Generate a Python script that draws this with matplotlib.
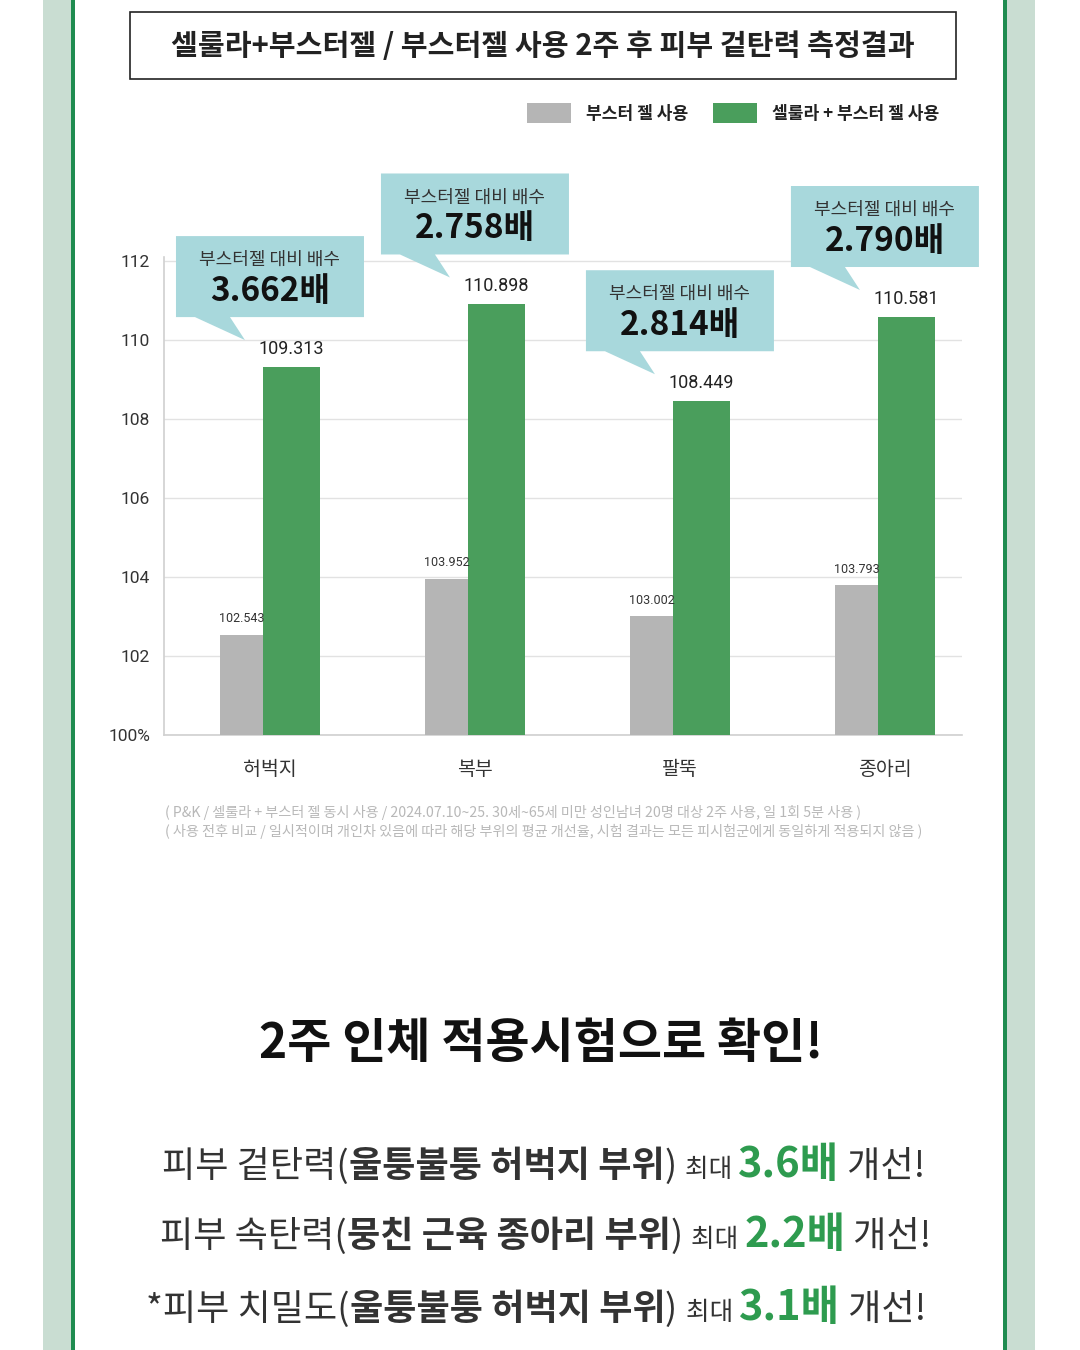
import matplotlib
matplotlib.use('Agg')
import matplotlib.pyplot as plt
from matplotlib.patches import Rectangle, Polygon
import numpy as np

plt.rcParams['font.family'] = ['Noto Sans CJK KR', 'DejaVu Sans']

W, H = 1080, 1350

# data
categories = ["허벅지", "복부", "팔뚝", "종아리"]
booster_only = [102.543, 103.952, 103.002, 103.793]
cellula_booster = [109.313, 110.898, 108.449, 110.581]
multipliers = ["3.662배", "2.758배", "2.814배", "2.790배"]
y_ticks = [100, 102, 104, 106, 108, 110, 112]
y_tick_labels = ["100%", "102", "104", "106", "108", "110", "112"]
legend_labels = ["부스터 젤 사용", "셀룰라 + 부스터 젤 사용"]
title = "셀룰라+부스터젤 / 부스터젤 사용 2주 후 피부 겉탄력 측정결과"
callout_caption = "부스터젤 대비 배수"
footnotes = [
    "( P&K / 셀룰라 + 부스터 젤 동시 사용 / 2024.07.10~25. 30세~65세 미만 성인남녀 20명 대상 2주 사용, 일 1회 5분 사용 )",
    "( 사용 전후 비교 / 일시적이며 개인차 있음에 따라 해당 부위의 평균 개선율, 시험 결과는 모든 피시험군에게 동일하게 적용되지 않음 )",
]
headline = "2주 인체 적용시험으로 확인!"
summary_lines = [
    ("피부 겉탄력(", "울퉁불퉁 허벅지 부위", ")", "3.6배"),
    ("피부 속탄력(", "뭉친 근육 종아리 부위", ")", "2.2배"),
    ("*피부 치밀도(", "울퉁불퉁 허벅지 부위", ")", "3.1배"),
]

GRAY = '#b5b5b5'
GREEN = '#4a9e5c'
TEAL = '#a8d8dc'
DARK = '#222222'
TEXT = '#333333'
BRIGHT_GREEN = '#2e9b4f'


def fx(px):
    return px / W


def fy(py):
    return 1 - py / H


fig = plt.figure(figsize=(W / 100, H / 100), dpi=100)
fig.patch.set_facecolor('white')

# side bands
for x0, w, c in [(43, 28, '#c9ddd2'), (71, 4, '#1f8c50'), (1003, 4, '#1f8c50'), (1007, 28, '#c9ddd2')]:
    fig.add_artist(Rectangle((fx(x0), 0), w / W, 1, transform=fig.transFigure,
                             facecolor=c, edgecolor='none', zorder=0))

# title box
fig.add_artist(Rectangle((fx(130), fy(79)), 826 / W, 67 / H, transform=fig.transFigure,
                         facecolor='white', edgecolor=DARK, linewidth=1.2))
fig.text(fx(543), fy(46), title, ha='center', va='center', fontsize=21,
         fontweight='heavy', color=DARK)

# chart
ax_l, ax_r, ax_b, ax_t = 164, 962, 735, 257
ax = fig.add_axes([fx(ax_l), fy(ax_b), (ax_r - ax_l) / W, (ax_b - ax_t) / H])
x_lo, x_hi = -0.517, 3.376
y_lo, y_hi = 100, 112.1
ax.set_xlim(x_lo, x_hi)
ax.set_ylim(y_lo, y_hi)
ux = (x_hi - x_lo) / (ax_r - ax_l)
uy = (y_hi - y_lo) / (ax_b - ax_t)

x = np.arange(len(categories))
gray_w, green_w = 0.21, 0.278
split = -0.034
b1 = ax.bar(x + split, np.array(booster_only) - 100, bottom=100, width=-gray_w,
            align='edge', color=GRAY, zorder=3)
b2 = ax.bar(x + split, np.array(cellula_booster) - 100, bottom=100, width=green_w,
            align='edge', color=GREEN, zorder=3)

for i in range(len(categories)):
    ax.text(x[i] + split - gray_w / 2, booster_only[i] + 16 * uy, f"{booster_only[i]:.3f}",
            ha='center', va='center', fontsize=9, color=TEXT, family='Roboto', zorder=4)
    ax.text(x[i] + split + green_w / 2, cellula_booster[i] + 18 * uy, f"{cellula_booster[i]:.3f}",
            ha='center', va='center', fontsize=13, color=DARK, family='Roboto', zorder=4)

ax.set_yticks(y_ticks)
ax.set_yticklabels(y_tick_labels, fontsize=12.5, color=TEXT, family='Roboto')
ax.set_xticks(x)
ax.set_xticklabels(categories, fontsize=14, color=TEXT)
ax.tick_params(axis='y', length=0, pad=10)
ax.tick_params(axis='x', length=0, pad=17)
ax.grid(axis='y', color='#e2e2e2', linewidth=1, zorder=0)
ax.set_axisbelow(True)
for s in ['top', 'right']:
    ax.spines[s].set_visible(False)
for s in ['left', 'bottom']:
    ax.spines[s].set_color('#d0d0d0')
    ax.spines[s].set_linewidth(1.2)

# callouts
for i, m in enumerate(multipliers):
    cx = x[i]
    v = cellula_booster[i]
    bot = v + 50 * uy
    top = bot + 81 * uy
    left, right = cx - 94 * ux, cx + 94 * ux
    verts = [(left, top), (right, top), (right, bot), (cx - 40 * ux, bot),
             (cx - 25 * ux, v + 27 * uy), (cx - 75 * ux, bot), (left, bot)]
    ax.add_patch(Polygon(verts, closed=True, facecolor=TEAL, edgecolor='none',
                         clip_on=False, zorder=5))
    ax.text(cx, top - 24 * uy, callout_caption, ha='center', va='center', fontsize=13,
            color=TEXT, zorder=6, clip_on=False)
    ax.text(cx, top - 55 * uy, m, ha='center', va='center', fontsize=24,
            fontweight='heavy', color='#111111', zorder=6, clip_on=False)

fig.legend(handles=[b1, b2], labels=legend_labels, loc='center',
           bbox_to_anchor=(fx(733), fy(113)), ncol=2, frameon=False,
           handlelength=2.6, handleheight=1.45, handletextpad=0.85, columnspacing=1.45,
           prop={'size': 12.3, 'weight': 'bold'}, labelcolor=DARK)

# footnotes
for i, line in enumerate(footnotes):
    fig.text(fx(165), fy(812 + 19 * i), line, ha='left', va='center', fontsize=10.2,
             color='#b8b8b8')

fig.text(fx(541), fy(1043), headline, ha='center', va='center', fontsize=34.5,
         fontweight='heavy', color='#111111')

# summary lines, built run by run
renderer = fig.canvas.get_renderer()
centers = [(544, 1177), (546, 1247), (536, 1320)]
for (pre, mid, post, num), (cx_px, base_px) in zip(summary_lines, centers):
    runs = [(pre, 26, 'medium', TEXT), (mid, 26, 'bold', TEXT), (post + " ", 26, 'medium', TEXT),
            ("최대 ", 18.5, 'normal', TEXT), (num, 30, 'heavy', BRIGHT_GREEN),
            (" 개선!", 26, 'normal', TEXT)]
    arts = []
    for txt, size, weight, color in runs:
        t = fig.text(0, fy(base_px), txt, ha='left', va='baseline', fontsize=size,
                     fontweight=weight, color=color)
        arts.append(t)
    widths = [a.get_window_extent(renderer).width for a in arts]
    xpos = cx_px - sum(widths) / 2
    for a, w in zip(arts, widths):
        a.set_x(fx(xpos))
        xpos += w

fig.savefig('out.png', dpi=100, facecolor='white')
